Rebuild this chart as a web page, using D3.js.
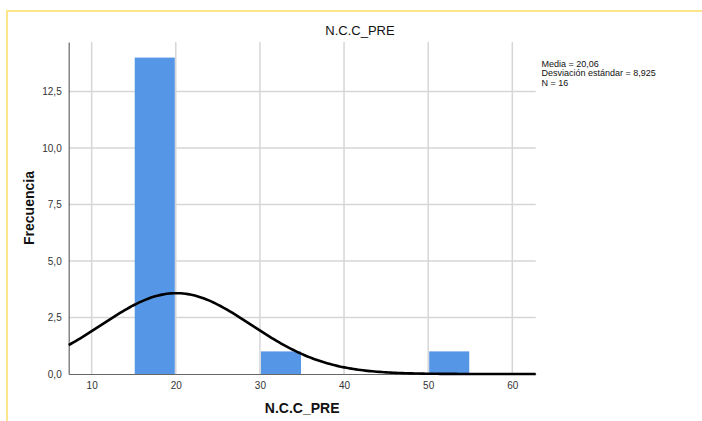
<!DOCTYPE html>
<html>
<head>
<meta charset="utf-8">
<script src="https://cdn.jsdelivr.net/npm/d3@7"></script>
<style>
  html, body { margin: 0; padding: 0; background: #fff; }
  svg { display: block; font-family: "Liberation Sans", Arial, sans-serif; }
</style>
</head>
<body>
<svg id="chart" width="702" height="421"></svg>
<script>
// Histogram bins (lower edge, upper edge) and their frequencies
const binStarts = [15, 30, 50];
const binEnds = [20, 35, 55];
const binCounts = [14, 1, 1];

// Tick values and labels
const xTicks = [10, 20, 30, 40, 50, 60];
const yTicks = [0, 2.5, 5, 7.5, 10, 12.5];

// Summary statistics shown in the legend, used for the normal curve
const statMean = 20.06;
const statSD = 8.925;
const statN = 16;
const binWidth = 5;
const statLabels = ["Media = 20,06", "Desviación estándar = 8,925", "N = 16"];

const svg = d3.select("#chart");
const plot = { left: 68.7, right: 535.7, top: 42, bottom: 374 };

const x = d3.scaleLinear().domain([7.27, 62.78]).range([plot.left, plot.right]);
const y = d3.scaleLinear().domain([0, 14.69]).range([plot.bottom, plot.top]);

const fmt = v => d3.format(".1f")(v).replace(".", ",");

// Outer frame (top and left edges)
svg.append("path")
  .attr("d", `M7,421 V11 H702`)
  .attr("fill", "none")
  .attr("stroke", "#fde58c")
  .attr("stroke-width", 2);

// Title
svg.append("text")
  .attr("x", 360).attr("y", 35)
  .attr("text-anchor", "middle")
  .attr("font-size", 13)
  .attr("fill", "#111")
  .text("N.C.C_PRE");

// Gridlines
const grid = svg.append("g").attr("stroke", "#d6d6d6").attr("stroke-width", 1.5);
grid.selectAll("line.v").data(xTicks).join("line")
  .attr("x1", d => x(d)).attr("x2", d => x(d))
  .attr("y1", plot.top).attr("y2", plot.bottom);
grid.selectAll("line.h").data(yTicks.filter(d => d > 0)).join("line")
  .attr("x1", plot.left).attr("x2", plot.right)
  .attr("y1", d => y(d)).attr("y2", d => y(d));

// Bars
const bins = binStarts.map((s, i) => ({ x0: s, x1: binEnds[i], n: binCounts[i] }));
svg.append("g").selectAll("rect").data(bins).join("rect")
  .attr("x", d => x(d.x0) + 1)
  .attr("width", d => x(d.x1) - x(d.x0) - 2)
  .attr("y", d => y(d.n))
  .attr("height", d => y(0) - y(d.n))
  .attr("fill", "#5596e6");

// Axes (no tick marks, only labels)
const xAxis = svg.append("g")
  .attr("transform", `translate(0,${plot.bottom})`)
  .call(d3.axisBottom(x).tickValues(xTicks).tickSize(0).tickPadding(8).tickFormat(d3.format("d")));
const yAxis = svg.append("g")
  .attr("transform", `translate(${plot.left},0)`)
  .call(d3.axisLeft(y).tickValues(yTicks).tickSize(0).tickPadding(7).tickFormat(fmt));
[xAxis, yAxis].forEach(a => {
  a.select(".domain").attr("stroke", "#666").attr("stroke-width", 1.2);
  a.selectAll("text").attr("font-size", 10).attr("fill", "#333")
    .attr("font-family", "'Liberation Sans', Arial, sans-serif");
});

// Normal curve scaled to the histogram counts
const pdfScale = statN * binWidth / (statSD * Math.sqrt(2 * Math.PI));
const xs = d3.range(0, 201).map(i => x.domain()[0] + (x.domain()[1] - x.domain()[0]) * i / 200);
const curve = xs.map(v => [v, pdfScale * Math.exp(-0.5 * ((v - statMean) / statSD) ** 2)]);
svg.append("path")
  .datum(curve)
  .attr("fill", "none")
  .attr("stroke", "#000")
  .attr("stroke-width", 2.6)
  .attr("d", d3.line().x(d => x(d[0])).y(d => y(d[1])));

// Axis titles
svg.append("text")
  .attr("x", (plot.left + plot.right) / 2).attr("y", 413)
  .attr("text-anchor", "middle")
  .attr("font-size", 14).attr("font-weight", "bold").attr("fill", "#111")
  .text("N.C.C_PRE");
svg.append("text")
  .attr("transform", `translate(34,${(plot.top + plot.bottom) / 2}) rotate(-90)`)
  .attr("text-anchor", "middle")
  .attr("font-size", 14).attr("font-weight", "bold").attr("fill", "#111")
  .text("Frecuencia");

// Statistics legend
svg.append("g").selectAll("text").data(statLabels).join("text")
  .attr("x", 541.5)
  .attr("y", (d, i) => 66.5 + i * 9.6)
  .attr("font-size", 9)
  .attr("fill", "#111")
  .text(d => d);
</script>
</body>
</html>
